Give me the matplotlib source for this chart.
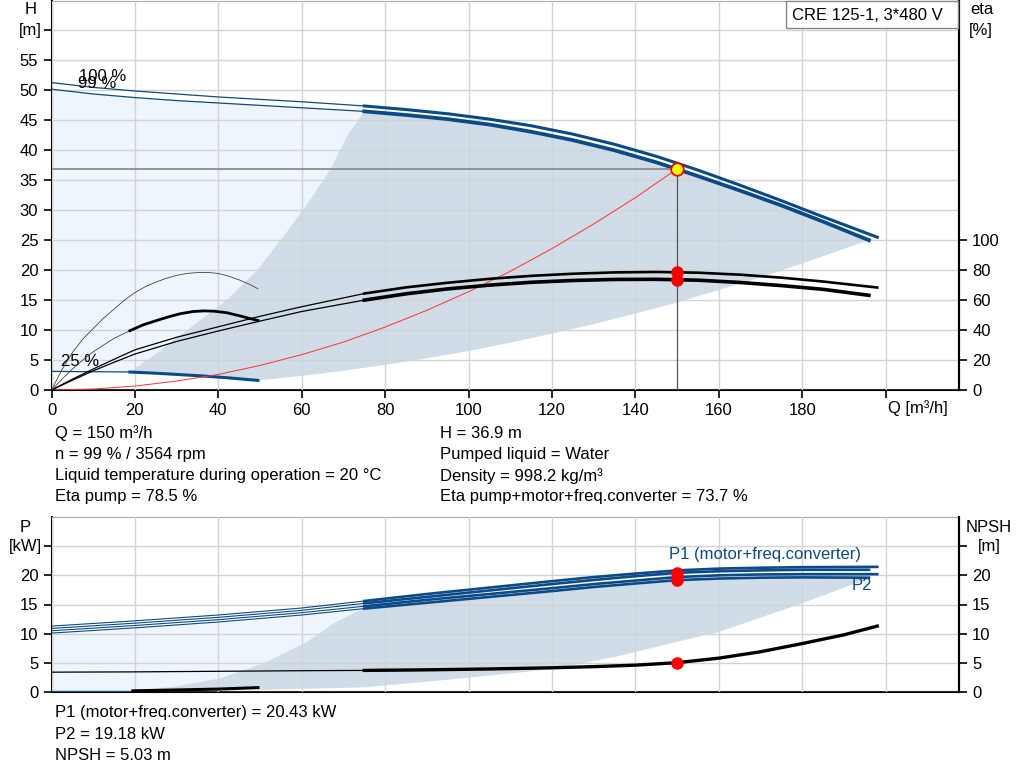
import matplotlib
matplotlib.use("Agg")
import matplotlib.pyplot as plt
from matplotlib.patches import Rectangle

plt.rcParams['font.family'] = ['Liberation Sans', 'DejaVu Sans']

BLUE = '#0b4a88'
LIGHT = '#eef5fc'
GREYBLUE = '#d0dce7'
GRID = '#d3d3d3'
FS = 12

# ---- QH curves (m) ----
Q100 = [0, 10, 20, 30, 40, 50, 60, 75, 85, 95, 105, 115, 125, 135, 145, 155, 165, 175, 185, 198]
H100 = [51.3, 50.5, 49.9, 49.4, 48.9, 48.5, 48.1, 47.4, 46.8, 46.1, 45.2, 44.1, 42.7, 41.0,
        39.0, 36.7, 34.2, 31.6, 28.9, 25.5]
Q99 = [0, 10, 20, 30, 40, 50, 60, 75, 85, 95, 105, 115, 125, 135, 145, 155, 165, 175, 185, 196]
H99 = [50.2, 49.4, 48.8, 48.3, 47.9, 47.5, 47.1, 46.5, 45.9, 45.2, 44.3, 43.1, 41.7, 40.0,
       38.0, 35.7, 33.3, 30.8, 28.1, 25.0]
Q25 = [0, 10, 18.8, 25, 30, 36.5, 42, 49.5]
H25 = [3.1, 3.05, 3.0, 2.8, 2.6, 2.33, 2.05, 1.6]

# system curve
Qsys = [0, 10, 20, 30, 40, 50, 60, 70, 80, 90, 100, 110, 120, 130, 140, 150]
Hsys = [0, 0.16, 0.65, 1.5, 2.6, 4.1, 5.9, 8.0, 10.5, 13.3, 16.4, 19.8, 23.6, 27.7, 32.1, 36.9]

# area edges (top chart)
Qleft = [18.8, 25, 32.5, 42, 49.3, 56, 62, 67, 71, 75]
Hleft = [3.0, 6, 10, 15, 20, 26, 31.7, 37, 42.5, 46.5]
Qlow = [49.5, 60, 70, 80, 90, 100, 110, 120, 130, 140, 150, 160, 170, 180, 196]
Hlow = [1.6, 2.35, 3.2, 4.2, 5.3, 6.5, 7.9, 9.4, 11.0, 12.75, 14.6, 16.7, 18.8, 21.1, 25.0]

# ---- eta curves (%) ----
Qe = [0, 5, 10, 15, 20, 30, 40, 50, 60, 75, 85, 95, 105, 115, 125, 135, 145, 155, 165, 175, 185, 198]
eta_pump = [0, 7.2, 14, 20.5, 26.8, 35.2, 42.2, 49.2, 55.6, 64.4, 68.5, 71.6, 74.2, 76.2,
            77.6, 78.5, 78.8, 78.3, 77.0, 75.0, 72.4, 68.4]
Qe2 = [0, 5, 10, 15, 20, 30, 40, 50, 60, 75, 85, 95, 105, 115, 125, 135, 145, 155, 165, 175, 185, 196]
eta_tot = [0, 6.5, 12.8, 18.5, 24, 32.4, 39.4, 46, 52.4, 60, 64.2, 67.5, 70.0, 71.9,
           73.1, 73.8, 73.9, 73.3, 71.8, 69.7, 67.2, 63.2]
Qe25 = [0, 2.5, 5, 7.5, 10, 12.5, 15, 17.5, 20, 22.5, 25, 27.5, 30, 32.5, 35, 37.5, 40,
        42.5, 45, 47.5, 49.5]
eta_pump25 = [0, 13.5, 25, 34, 41, 48, 54, 60, 65, 69, 72, 74.5, 76.5, 77.8, 78.4, 78.5,
              77.8, 76, 73.5, 70.5, 67.6]
Qt25 = [0, 2.5, 5, 7.5, 10, 12.5, 15, 18.8, 22, 25, 28, 31, 34, 36.5, 39, 42, 45, 47.5, 49.5]
eta_tot25 = [0, 7.2, 14, 20, 25.5, 30, 34.5, 39.6, 43.5, 46.2, 48.8, 51, 52.4, 52.8, 52.6,
             51.6, 49.6, 47.8, 46.4]

# ---- power / NPSH ----
QP = [0, 20, 40, 60, 75, 90, 105, 120, 130, 140, 150, 160, 170, 180, 198]
QP99 = [0, 20, 40, 60, 75, 90, 105, 120, 130, 140, 150, 160, 170, 180, 196]
P1_100 = [11.3, 12.2, 13.2, 14.4, 15.6, 16.8, 17.9, 19.0, 19.7, 20.3, 20.85, 21.15, 21.3, 21.4, 21.45]
P1_99 = [10.9, 11.8, 12.8, 14.0, 15.2, 16.3, 17.4, 18.5, 19.2, 19.85, 20.43, 20.7, 20.85, 20.95, 20.95]
P2_100 = [10.5, 11.4, 12.4, 13.6, 14.7, 15.8, 16.8, 17.8, 18.5, 19.1, 19.7, 20.0, 20.15, 20.2, 20.2]
P2_99 = [10.1, 11.0, 12.0, 13.2, 14.3, 15.3, 16.3, 17.3, 18.0, 18.6, 19.18, 19.45, 19.6, 19.65, 19.6]
Qn = [0, 20, 40, 60, 75, 90, 105, 120, 130, 140, 150, 160, 170, 180, 190, 198]
npsh = [3.4, 3.45, 3.55, 3.65, 3.7, 3.8, 3.95, 4.15, 4.35, 4.6, 5.03, 5.8, 6.9, 8.3, 9.8, 11.3]
Q25p = [0, 10, 19.5, 30, 40, 49.5]
P25 = [0.2, 0.2, 0.2, 0.35, 0.5, 0.75]

Qleftb = [19.5, 29.3, 40.5, 51.7, 61.3, 67.7, 73.3, 75]
Pleftb = [0.2, 0.9, 2.35, 5.2, 8.6, 11.8, 13.8, 14.3]
Qlowb = [49.5, 75, 95, 120, 135, 150, 160, 180, 196]
Plowb = [0.35, 0.8, 2.1, 3.9, 6.0, 8.6, 10.3, 15.2, 19.5]

Qop, Hop = 150, 36.9
eta_p_op, eta_t_op = 78.5, 73.7
P1_op, P2_op, npsh_op = 20.43, 19.18, 5.03

info_left = ['Q = 150 m³/h', 'n = 99 % / 3564 rpm',
             'Liquid temperature during operation = 20 °C', 'Eta pump = 78.5 %']
info_right = ['H = 36.9 m', 'Pumped liquid = Water', 'Density = 998.2 kg/m³',
              'Eta pump+motor+freq.converter = 73.7 %']
info_bottom = ['P1 (motor+freq.converter) = 20.43 kW', 'P2 = 19.18 kW', 'NPSH = 5.03 m']

W, HP = 1024.0, 781.0
def fx(px):
    return px / W
def fy(py):
    return 1 - py / HP

fig = plt.figure(figsize=(10.24, 7.81), dpi=100)

XMAX = 217.6

def style_axes(a):
    a.set_xlim(0, XMAX)
    a.grid(True, color=GRID, lw=1)
    a.set_axisbelow(False)
    for s in ['left', 'bottom']:
        a.spines[s].set_linewidth(1.5)
    a.spines['top'].set_color('#aaaaaa')
    a.spines['right'].set_linewidth(1.5)
    a.tick_params(direction='out', length=6, width=1.2, labelsize=FS, pad=3.5)

def right_axis(a):
    for s in ['left', 'top', 'bottom']:
        a.spines[s].set_visible(False)
    a.spines['right'].set_linewidth(1.5)
    a.tick_params(direction='out', length=6, width=1.2, labelsize=FS, pad=3.5)

# ================= top chart =================
ax = fig.add_axes([fx(51.5), fy(390), fx(959) - fx(51.5), fy(0.5) - fy(390)])
style_axes(ax)
ax.set_ylim(0, 65)
ax.set_xticks(range(0, 201, 20))
ax.set_xticklabels([str(v) for v in range(0, 181, 20)] + [''])
ax.set_yticks(range(0, 61, 5))
ax.set_yticklabels([str(v) for v in range(0, 56, 5)] + [''])

# areas
light_q = Q99[:8] + Qleft[::-1] + Q25[2::-1]
light_h = H99[:8] + Hleft[::-1] + H25[2::-1]
ax.fill(light_q, light_h, color=LIGHT, lw=0, zorder=1)
grey_q = Qleft + Q99[7:] + Qlow[::-1] + Q25[:1:-1]
grey_h = Hleft + H99[7:] + Hlow[::-1] + H25[:1:-1]
ax.fill(grey_q, grey_h, color=GREYBLUE, lw=0, zorder=1)

ax.plot(Q100[:8], H100[:8], color=BLUE, lw=0.9, zorder=3)
ax.plot(Q100[7:], H100[7:], color=BLUE, lw=2.2, zorder=3)
ax.plot(Q99[:8], H99[:8], color=BLUE, lw=0.9, zorder=3)
ax.plot(Q99[7:], H99[7:], color=BLUE, lw=2.7, zorder=3)
ax.plot(Q25[:3], H25[:3], color=BLUE, lw=0.9, zorder=3)
ax.plot(Q25[2:], H25[2:], color=BLUE, lw=2.2, zorder=3)

ax.plot(Qsys, Hsys, color='#ff3030', lw=0.7, zorder=3)
ax.plot([0, Qop], [Hop, Hop], color='#8c8c8c', lw=1.3, zorder=3)
ax.plot([Qop, Qop], [0, Hop], color='#555555', lw=0.9, zorder=3)
ax.plot(Qop, Hop, 'o', ms=9, mfc='#ffff00', mec='red', mew=1.3, zorder=6)

ax.text(6.5, 52.3, '100 %', fontsize=FS, va='center', ha='left', zorder=5)
ax.text(6.3, 51.1, '99 %', fontsize=FS, va='center', ha='left', zorder=5)
ax.text(2.2, 4.8, '25 %', fontsize=FS, va='center', ha='left', zorder=5)

ax2 = ax.twinx()
ax2.set_ylim(0, 260)
ax2.set_yticks(range(0, 101, 20))
right_axis(ax2)

ax2.plot(Qe[:10], eta_pump[:10], color='black', lw=0.9)
ax2.plot(Qe[9:], eta_pump[9:], color='black', lw=1.9)
ax2.plot(Qe2[:10], eta_tot[:10], color='black', lw=0.9)
ax2.plot(Qe2[9:], eta_tot[9:], color='black', lw=2.6)
ax2.plot(Qe25, eta_pump25, color='#444444', lw=0.6)
ax2.plot(Qt25[:8], eta_tot25[:8], color='#444444', lw=0.6)
ax2.plot(Qt25[7:], eta_tot25[7:], color='black', lw=2.0)
ax2.plot([Qop, Qop], [eta_p_op, eta_t_op], 'o', color='red', ms=8, zorder=6)

# ================= bottom chart =================
axb = fig.add_axes([fx(51.5), fy(692), fx(959) - fx(51.5), fy(517) - fy(692)])
style_axes(axb)
axb.set_ylim(0, 30)
axb.set_xticks(range(0, 201, 20))
axb.tick_params(axis='x', length=0, labelbottom=False)
axb.set_yticks(range(0, 26, 5))
axb.set_yticklabels([str(v) for v in range(0, 21, 5)] + [''])

light_q = QP99[:5] + Qleftb[::-1] + Q25p[2::-1]
light_p = P2_99[:5] + Pleftb[::-1] + P25[2::-1]
axb.fill(light_q, light_p, color=LIGHT, lw=0, zorder=1)
grey_q = Qleftb + QP99[4:] + Qlowb[::-1] + Q25p[:1:-1]
grey_p = Pleftb + P2_99[4:] + Plowb[::-1] + P25[:1:-1]
axb.fill(grey_q, grey_p, color=GREYBLUE, lw=0, zorder=1)

for qq, pp in [(QP, P1_100), (QP99, P1_99), (QP, P2_100), (QP99, P2_99)]:
    axb.plot(qq[:5], pp[:5], color=BLUE, lw=0.8, zorder=3)
    axb.plot(qq[4:], pp[4:], color=BLUE, lw=1.9, zorder=3)
axb.plot(Q25p[:3], P25[:3], color=BLUE, lw=0.9, zorder=3)
axb.plot(Q25p[2:], P25[2:], color='black', lw=2.2, zorder=3)
axb.plot([Qop, Qop], [P1_op, P2_op], 'o', color='red', ms=8, zorder=6)
axb.text(148, 23.5, 'P1 (motor+freq.converter)', color=BLUE, fontsize=FS,
         va='center', ha='left', zorder=5)
axb.text(191.8, 18.2, 'P2', color=BLUE, fontsize=FS, va='center', ha='left', zorder=5)

axb2 = axb.twinx()
axb2.set_ylim(0, 30)
axb2.set_yticks(range(0, 26, 5))
axb2.set_yticklabels([str(v) for v in range(0, 21, 5)] + [''])
right_axis(axb2)
axb2.plot(Qn[:5], npsh[:5], color='black', lw=0.9)
axb2.plot(Qn[4:], npsh[4:], color='black', lw=2.4)
axb2.plot(Qop, npsh_op, 'o', color='red', ms=8, zorder=6)

# ================= texts =================
fig.text(fx(30.5), fy(9), 'H', fontsize=FS, ha='center', va='center')
fig.text(fx(30.5), fy(30), '[m]', fontsize=FS, ha='center', va='center')
fig.text(fx(982), fy(10), 'eta', fontsize=FS, ha='center', va='center')
fig.text(fx(981), fy(30), '[%]', fontsize=FS, ha='center', va='center')
fig.text(fx(888), fy(408), 'Q [m³/h]', fontsize=FS, ha='left', va='center')
fig.text(fx(25), fy(527), 'P', fontsize=FS, ha='center', va='center')
fig.text(fx(25), fy(547), '[kW]', fontsize=FS, ha='center', va='center')
fig.text(fx(989), fy(527), 'NPSH', fontsize=FS, ha='center', va='center')
fig.text(fx(989), fy(547), '[m]', fontsize=FS, ha='center', va='center')

fig.add_artist(Rectangle((fx(786), fy(28)), fx(958) - fx(786), fy(1) - fy(28),
                         transform=fig.transFigure, facecolor='white',
                         edgecolor='#888888', lw=1, zorder=10))
fig.text(fx(792), fy(15), 'CRE 125-1, 3*480 V', fontsize=FS, ha='left', va='center', zorder=11)

for i, s in enumerate(info_left):
    fig.text(fx(55), fy(433 + 21.3 * i), s, fontsize=FS, ha='left', va='center')
for i, s in enumerate(info_right):
    fig.text(fx(440), fy(433 + 21.3 * i), s, fontsize=FS, ha='left', va='center')
for i, s in enumerate(info_bottom):
    fig.text(fx(55), fy(713 + 21.5 * i), s, fontsize=FS, ha='left', va='center')

fig.savefig('out.png', dpi=100)
